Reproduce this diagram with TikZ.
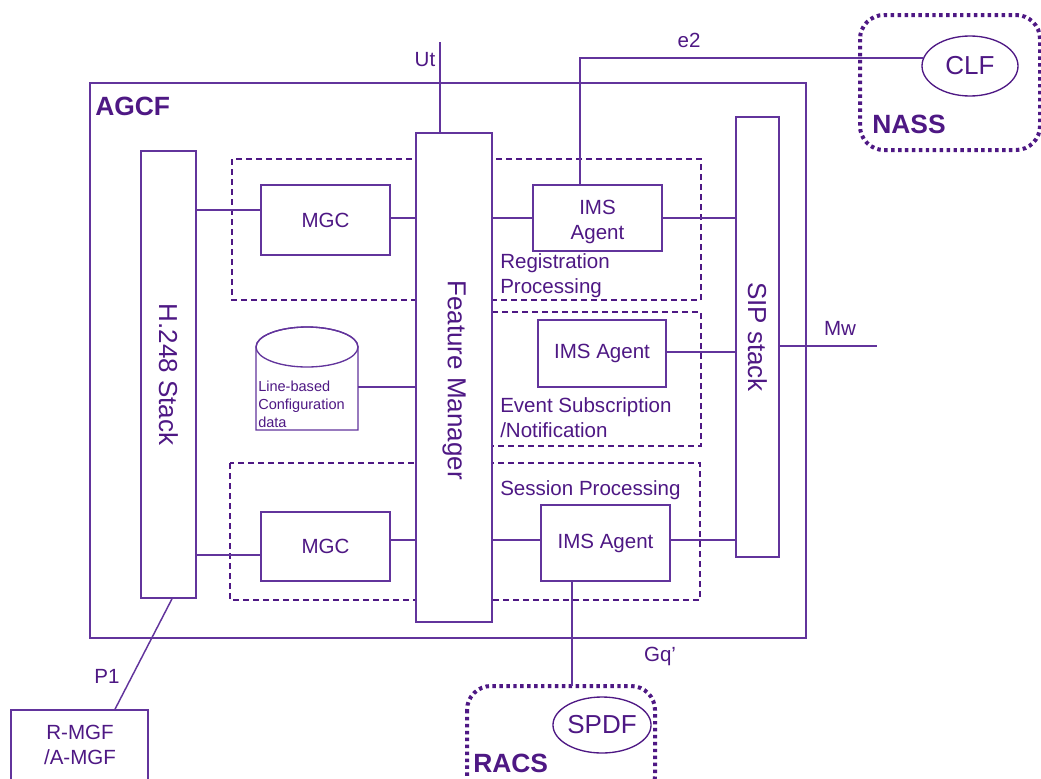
\documentclass[tikz,border=0pt]{standalone}
\usepackage{fontspec}
\setmainfont{Liberation Sans}
\usetikzlibrary{shapes.geometric}
\definecolor{tc}{RGB}{78,24,132}
\definecolor{lc}{RGB}{98,52,156}
\tikzset{
  px/.style={x=0.75pt,y=-0.75pt},
  box/.style={draw=lc,line width=1.2pt,fill=white,inner sep=0pt,text=tc,font=\fontsize{15.4}{18.8}\selectfont,align=center},
  bigtxt/.style={text=tc,font=\fontsize{19.5}{22}\selectfont},
  boldtxt/.style={text=tc,font=\fontsize{19.8}{22}\selectfont\bfseries},
  lbl/.style={text=tc,font=\fontsize{15.4}{18.8}\selectfont,inner sep=0pt,align=left},
  conn/.style={draw=lc,line width=1.1pt},
  dashbox/.style={draw=tc,line width=1.3pt,dash pattern=on 4.5pt off 3pt},
  dotbox/.style={draw=tc,line width=3pt,dash pattern=on 2.6pt off 2.6pt,rounded corners=18pt},
  oval/.style={draw=tc,line width=1pt,ellipse,fill=white,inner sep=0pt,text=tc,font=\fontsize{19.5}{22}\selectfont},
}
\begin{document}
\begin{tikzpicture}[px]
\clip (0,0) rectangle (1041,778);
\fill[white] (0,0) rectangle (1041,778);
% outer frames
\node[box,fill=none,minimum width=537pt,minimum height=416.25pt] (agcf) at (448,360.5) {};
\node[boldtxt,anchor=west,inner sep=0pt] (agcfl) at (95,106) {AGCF};
\draw[dotbox] (860,15) rectangle (1040,150);
\draw[dotbox] (467,686) rectangle (655,800);
\node[boldtxt,anchor=west,inner sep=0pt] (nassl) at (872,124) {NASS};
\node[boldtxt,anchor=west,inner sep=0pt] (racsl) at (473,763) {RACS};
% dashed groups
\draw[dashbox] (232,159) rectangle (701,300);
\draw[dashbox] (492,312) rectangle (701,446);
\draw[dashbox] (230,463) rectangle (700,600);
% stacks
\node[box,minimum width=41.25pt,minimum height=335.25pt] (h248) at (168.5,374.5) {};
\node[bigtxt,rotate=-90] at (h248.center) {H.248 Stack};
\node[box,minimum width=57pt,minimum height=366.75pt] (fm) at (454,377.5) {};
\node[bigtxt,rotate=-90] at (454,380) {Feature Manager};
\node[box,minimum width=32.25pt,minimum height=330pt] (sip) at (757.5,337) {};
\node[bigtxt,rotate=-90] at (sip.center) {SIP stack};
% inner boxes
\node[box,minimum width=96.75pt,minimum height=52.5pt] (mgc1) at (325.5,220) {MGC};
\node[box,minimum width=96.75pt,minimum height=49.5pt] (ims1) at (597.5,218) {};
\node[lbl,align=center] (ims1t) at (597.5,222) {IMS\\Agent};
\node[box,minimum width=96pt,minimum height=50.25pt] (ims2) at (602,353.5) {IMS Agent};
\node[box,minimum width=96.75pt,minimum height=51.75pt] (mgc2) at (325.5,546.5) {MGC};
\node[box,minimum width=96.75pt,minimum height=57pt] (ims3) at (605.5,543) {IMS Agent};
% group labels
\node[lbl,anchor=north west] (regl) at (500,253) {Registration\\Processing};
\node[lbl,anchor=north west] (evl) at (500,397) {Event Subscription\\/Notification};
\node[lbl,anchor=north west] (sesl) at (500,480) {Session Processing};
% database cylinder
\node[inner sep=0pt,minimum width=76.5pt,minimum height=62.25pt] (cyl) at (307,388.5) {};
\draw[draw=lc,line width=1pt,fill=white] (256,347) -- (256,430) -- (358,430) -- (358,347) arc[start angle=0,end angle=-180,x radius=51,y radius=20];
\draw[draw=lc,line width=1pt] (307,347) ellipse[x radius=51,y radius=20];
\node[text=tc,font=\fontsize{10.9}{13.2}\selectfont,align=left,inner sep=0pt,anchor=north west] (cylt) at (258,381) {Line-based\\Configuration\\data};
% ellipses
\node[oval,minimum width=72pt,minimum height=45pt] (clf) at (970,66) {CLF};
\node[oval,minimum width=70.5pt,minimum height=42pt] (spdf) at (602,725) {SPDF};
% R-MGF
\node[box,minimum width=102.75pt,minimum height=67.5pt] (rmgf) at (79.5,755) {};
\node[lbl,align=center] (rmgft) at (80,745) {R-MGF\\/A-MGF};
% external end points
\coordinate (utend) at (440,42);
\coordinate (mwend) at (877,346);
\coordinate (e2c) at (580,58);
\coordinate (racstop) at (572,686);
% connectors
\draw[conn] (h248.east |- 0,210) -- (mgc1.west |- 0,210);
\draw[conn] (mgc1.east |- 0,218) -- (fm.west |- 0,218);
\draw[conn] (fm.east |- ims1.west) -- (ims1.west);
\draw[conn] (ims1.east) -- (sip.west |- ims1.east);
\draw[conn] (ims2.east |- 0,352) -- (sip.west |- 0,352);
\draw[conn] (cyl.east |- 0,387) -- (fm.west |- 0,387);
\draw[conn] (h248.east |- 0,555) -- (mgc2.west |- 0,555);
\draw[conn] (mgc2.east |- 0,540) -- (fm.west |- 0,540);
\draw[conn] (fm.east |- 0,540) -- (ims3.west |- 0,540);
\draw[conn] (ims3.east |- 0,540) -- (sip.west |- 0,540);
\draw[conn] (sip.east |- mwend) -- (mwend);
\draw[conn] (fm.north -| utend) -- (utend);
\draw[conn] (ims1.north -| e2c) -- (e2c) -- ([xshift=1.5pt]clf.west |- e2c);
\draw[conn] (h248.south -| 172,0) -- (rmgf.north -| 115,0);
\draw[conn] (ims3.south -| racstop) -- (racstop);
% interface labels
\node[lbl] (utl) at (425,60) {Ut};
\node[lbl] (e2l) at (689,40) {e2};
\node[lbl] (mwl) at (840,328) {Mw};
\node[lbl] (p1l) at (107,676) {P1};
\node[lbl] (gql) at (660,656) {Gq'};
\end{tikzpicture}
\end{document}
